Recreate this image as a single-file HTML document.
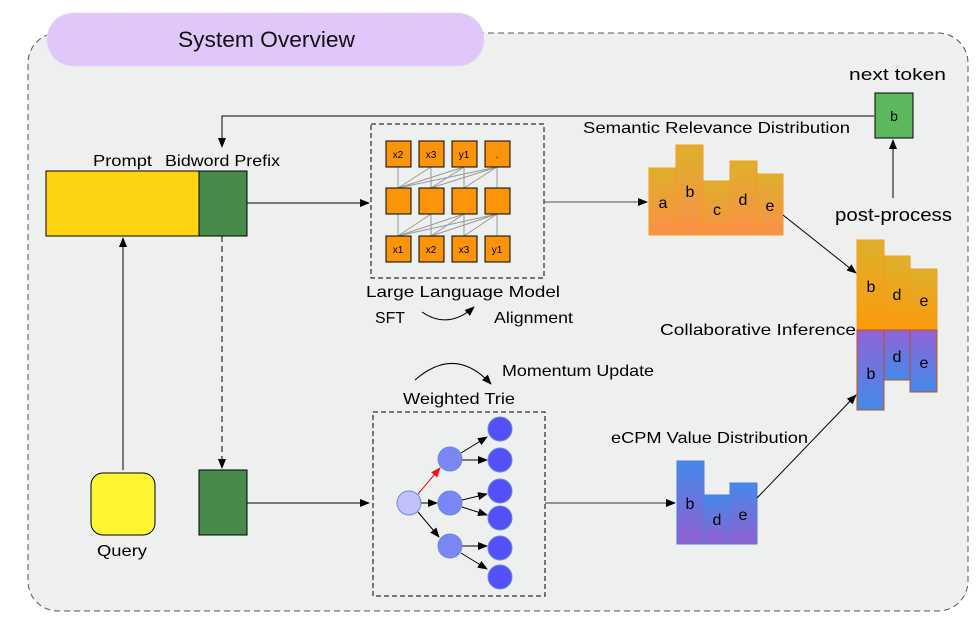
<!DOCTYPE html>
<html><head><meta charset="utf-8"><style>
body{margin:0;background:#fff;}
svg{display:block;font-family:"Liberation Sans",sans-serif;}
</style></head><body>
<svg width="980" height="626" viewBox="0 0 980 626" xmlns="http://www.w3.org/2000/svg">
<defs>
<marker id="ah" markerWidth="10" markerHeight="8" refX="9" refY="4" orient="auto" markerUnits="userSpaceOnUse"><path d="M0,0 L10,4 L0,8 z" fill="#000"/></marker>
<marker id="ahr" markerWidth="10" markerHeight="8" refX="9" refY="4" orient="auto" markerUnits="userSpaceOnUse"><path d="M0,0 L10,4 L0,8 z" fill="#f01010"/></marker>
<linearGradient id="og" x1="0" y1="0" x2="0" y2="1"><stop offset="0" stop-color="#ddb02b"/><stop offset="1" stop-color="#fb9048"/></linearGradient>
<linearGradient id="og2" x1="0" y1="0" x2="0" y2="1"><stop offset="0" stop-color="#ddb02b"/><stop offset="1" stop-color="#fc9a0c"/></linearGradient>
<linearGradient id="pg" x1="0" y1="0" x2="0" y2="1"><stop offset="0" stop-color="#9064d6"/><stop offset="1" stop-color="#438aea"/></linearGradient>
<linearGradient id="bg" x1="0" y1="0" x2="0" y2="1"><stop offset="0" stop-color="#4489ea"/><stop offset="1" stop-color="#9160d0"/></linearGradient>
</defs>
<rect x="28" y="33" width="940" height="578" rx="30" fill="#eef0f0" stroke="#555" stroke-dasharray="6,4"/>
<rect x="47" y="13" width="437" height="53" rx="26" fill="#dfc6fb" stroke="#e8d8fc" stroke-dasharray="4,3"/>
<text x="178" y="47" font-size="22" textLength="177" lengthAdjust="spacingAndGlyphs" fill="#111">System Overview</text>

<!-- prompt -->
<rect x="46" y="171" width="153" height="65" fill="#fdd40f" stroke="#000"/>
<rect x="199" y="171" width="48" height="65" fill="#478a4a" stroke="#000"/>
<text x="93" y="166" font-size="16" textLength="59" lengthAdjust="spacingAndGlyphs">Prompt</text>
<text x="165" y="166" font-size="16" textLength="115" lengthAdjust="spacingAndGlyphs">Bidword Prefix</text>
<polyline points="874,116 222,116 222,147" fill="none" stroke="#000" marker-end="url(#ah)"/>
<line x1="247" y1="203" x2="369" y2="203" stroke="#000" marker-end="url(#ah)"/>

<!-- LLM -->
<rect x="371" y="124" width="173" height="154" fill="none" stroke="#000" stroke-dasharray="5,3"/>
<g stroke="#999" stroke-width="1">
<line x1="398" y1="167" x2="398" y2="188"/><line x1="431" y1="167" x2="431" y2="188"/><line x1="464" y1="167" x2="464" y2="188"/><line x1="497" y1="167" x2="497" y2="188"/>
<line x1="431" y1="167" x2="398" y2="188"/><line x1="464" y1="167" x2="398" y2="188"/><line x1="464" y1="167" x2="431" y2="188"/><line x1="497" y1="167" x2="398" y2="188"/><line x1="497" y1="167" x2="431" y2="188"/><line x1="497" y1="167" x2="464" y2="188"/>
<line x1="398" y1="214" x2="398" y2="236"/><line x1="431" y1="214" x2="431" y2="236"/><line x1="464" y1="214" x2="464" y2="236"/><line x1="497" y1="214" x2="497" y2="236"/>
<line x1="431" y1="214" x2="398" y2="236"/><line x1="464" y1="214" x2="398" y2="236"/><line x1="464" y1="214" x2="431" y2="236"/><line x1="497" y1="214" x2="398" y2="236"/><line x1="497" y1="214" x2="431" y2="236"/><line x1="497" y1="214" x2="464" y2="236"/>
</g>
<g fill="#fc940a" stroke="#000">
<rect x="386" y="141" width="25" height="26"/><rect x="419" y="141" width="25" height="26"/><rect x="452" y="141" width="25" height="26"/><rect x="485" y="141" width="25" height="26"/>
<rect x="386" y="188" width="25" height="26"/><rect x="419" y="188" width="25" height="26"/><rect x="452" y="188" width="25" height="26"/><rect x="485" y="188" width="25" height="26"/>
<rect x="386" y="236" width="25" height="26"/><rect x="419" y="236" width="25" height="26"/><rect x="452" y="236" width="25" height="26"/><rect x="485" y="236" width="25" height="26"/>
</g>
<g font-size="10" text-anchor="middle">
<text x="398" y="158">x2</text><text x="431" y="158">x3</text><text x="464" y="158">y1</text><text x="497" y="158">.</text>
<text x="398" y="253">x1</text><text x="431" y="253">x2</text><text x="464" y="253">x3</text><text x="497" y="253">y1</text>
</g>
<text x="366" y="297" font-size="16" textLength="194" lengthAdjust="spacingAndGlyphs">Large Language Model</text>
<text x="375" y="323" font-size="16" textLength="30" lengthAdjust="spacingAndGlyphs">SFT</text>
<path d="M422,312 Q448,330 474,307" fill="none" stroke="#000" marker-end="url(#ah)"/>
<text x="494" y="323" font-size="16" textLength="79" lengthAdjust="spacingAndGlyphs">Alignment</text>
<line x1="544" y1="202" x2="647" y2="202" stroke="#555" marker-end="url(#ah)"/>

<!-- semantic -->
<text x="583" y="133" font-size="16" textLength="267" lengthAdjust="spacingAndGlyphs">Semantic Relevance Distribution</text>
<g fill="url(#og)" stroke="#f69a20">
<rect x="649" y="168" width="27" height="67"/><rect x="676" y="145" width="27" height="90"/><rect x="703" y="181" width="27" height="54"/><rect x="730" y="161" width="27" height="74"/><rect x="757" y="174" width="26" height="61"/>
</g>
<g font-size="16" text-anchor="middle">
<text x="663" y="208">a</text><text x="690" y="197">b</text><text x="717" y="215">c</text><text x="743" y="205">d</text><text x="770" y="211">e</text>
</g>
<line x1="783" y1="215" x2="856" y2="273" stroke="#000" marker-end="url(#ah)"/>

<!-- collaborative -->
<g fill="url(#og2)" stroke="#f69a20">
<rect x="857" y="240" width="27" height="90"/><rect x="884" y="256" width="26" height="74"/><rect x="910" y="269" width="27" height="61"/>
</g>
<g fill="url(#pg)" stroke="#c0501a">
<rect x="857" y="330" width="27" height="80"/><rect x="884" y="330" width="26" height="50"/><rect x="910" y="330" width="27" height="62"/>
</g>
<g font-size="16" text-anchor="middle">
<text x="871" y="292">b</text><text x="897" y="300">d</text><text x="924" y="306">e</text>
<text x="871" y="379">b</text><text x="897" y="362">d</text><text x="924" y="368">e</text>
</g>
<text x="660" y="335" font-size="16" textLength="196" lengthAdjust="spacingAndGlyphs">Collaborative Inference</text>
<text x="835" y="221" font-size="18" textLength="117" lengthAdjust="spacingAndGlyphs">post-process</text>
<line x1="893" y1="198" x2="893" y2="140" stroke="#000" marker-end="url(#ah)"/>
<text x="849" y="80" font-size="17" textLength="97" lengthAdjust="spacingAndGlyphs">next token</text>
<rect x="875" y="93" width="38" height="45" fill="#5cb85c" stroke="#000"/>
<text x="894" y="121" font-size="14" text-anchor="middle">b</text>

<!-- lower -->
<line x1="222" y1="236" x2="222" y2="468" stroke="#000" stroke-dasharray="6,4" marker-end="url(#ah)"/>
<rect x="199" y="470" width="48" height="65" fill="#478a4a" stroke="#000"/>
<rect x="91" y="473" width="64" height="62" rx="12" fill="#fff533" stroke="#000"/>
<text x="97" y="556" font-size="16" textLength="50" lengthAdjust="spacingAndGlyphs">Query</text>
<line x1="123" y1="470" x2="123" y2="238" stroke="#000" marker-end="url(#ah)"/>
<line x1="247" y1="503" x2="369" y2="503" stroke="#000" marker-end="url(#ah)"/>

<!-- trie -->
<rect x="373" y="412" width="172" height="184" fill="none" stroke="#000" stroke-dasharray="5,3"/>
<text x="403" y="404" font-size="16" textLength="112" lengthAdjust="spacingAndGlyphs">Weighted Trie</text>
<path d="M415,380 Q455,345 491,384" fill="none" stroke="#000" marker-end="url(#ah)"/>
<text x="502" y="376" font-size="16" textLength="152" lengthAdjust="spacingAndGlyphs">Momentum Update</text>
<g stroke="#000">
<line x1="418" y1="494" x2="440" y2="468" stroke="#f01010" marker-end="url(#ahr)"/>
<line x1="421" y1="503" x2="437" y2="503" marker-end="url(#ah)"/>
<line x1="418" y1="512" x2="439" y2="537" marker-end="url(#ah)"/>
<line x1="461" y1="453" x2="487" y2="437" marker-end="url(#ah)"/>
<line x1="462" y1="460" x2="487" y2="460" marker-end="url(#ah)"/>
<line x1="462" y1="500" x2="487" y2="494" marker-end="url(#ah)"/>
<line x1="462" y1="507" x2="487" y2="515" marker-end="url(#ah)"/>
<line x1="462" y1="546" x2="487" y2="546" marker-end="url(#ah)"/>
<line x1="461" y1="553" x2="487" y2="569" marker-end="url(#ah)"/>
</g>
<circle cx="409" cy="503" r="12" fill="#c0c0fc" stroke="#6a8ad8"/>
<g fill="#7b86f5" stroke="#6a8ad8"><circle cx="450" cy="459" r="12"/><circle cx="450" cy="503" r="12"/><circle cx="450" cy="546" r="12"/></g>
<g fill="#5350fa" stroke="#6a8ad8"><circle cx="500" cy="429" r="12"/><circle cx="500" cy="460" r="12"/><circle cx="500" cy="491" r="12"/><circle cx="500" cy="518" r="12"/><circle cx="500" cy="548" r="12"/><circle cx="500" cy="577" r="12"/></g>
<line x1="545" y1="503" x2="675" y2="503" stroke="#333" marker-end="url(#ah)"/>

<!-- ecpm -->
<text x="611" y="443" font-size="16" textLength="197" lengthAdjust="spacingAndGlyphs">eCPM Value Distribution</text>
<g fill="url(#bg)" stroke="#4a7ae8">
<rect x="677" y="461" width="27" height="83"/><rect x="704" y="495" width="26" height="49"/><rect x="730" y="483" width="27" height="61"/>
</g>
<g font-size="16" text-anchor="middle"><text x="690" y="509">b</text><text x="717" y="525">d</text><text x="743" y="520">e</text></g>
<line x1="757" y1="498" x2="856" y2="395" stroke="#000" marker-end="url(#ah)"/>
</svg>
</body></html>
